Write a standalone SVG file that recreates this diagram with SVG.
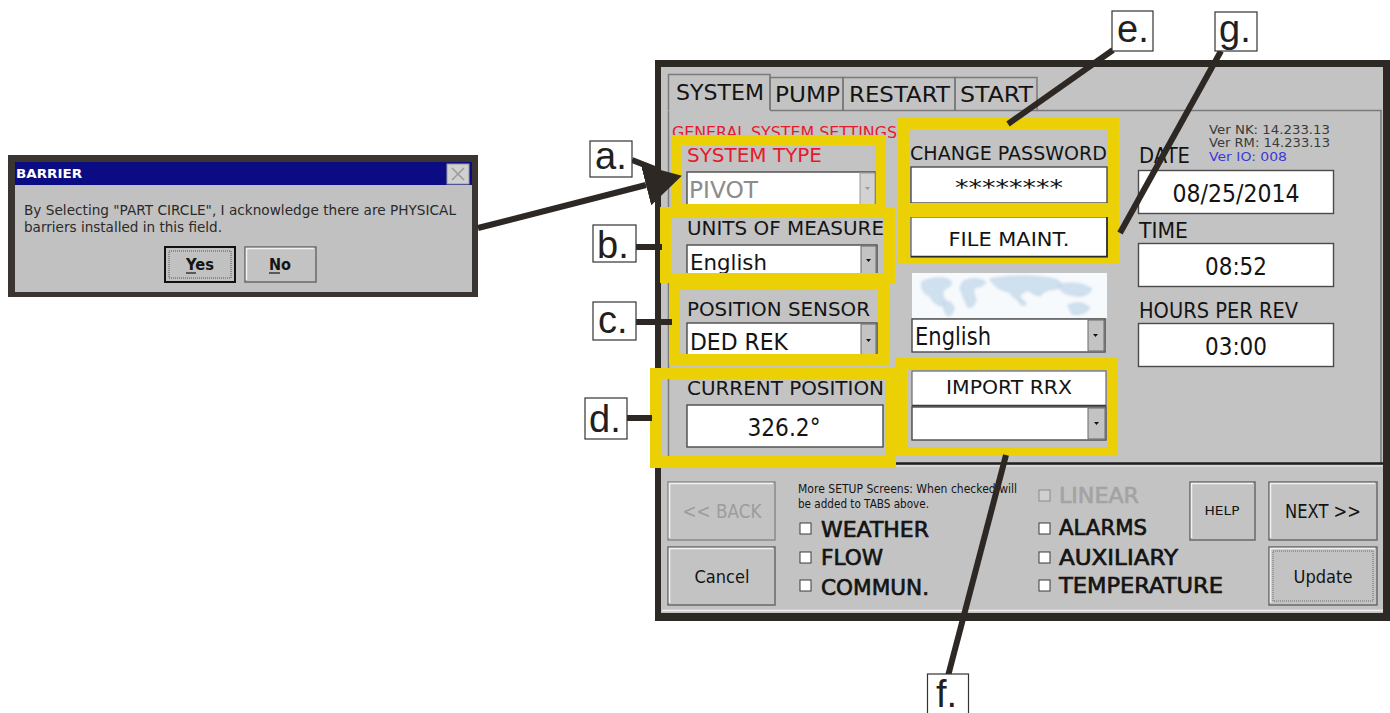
<svg xmlns="http://www.w3.org/2000/svg" width="1390" height="713" viewBox="0 0 1390 713">
<style>
.ui{font-family:"DejaVu Sans","Noto Sans",sans-serif;fill:#141414}
.cb{font-size:22px;stroke:#141414;stroke-width:0.7}
.lb{font-family:"Liberation Sans",Arial,sans-serif;font-size:38px;fill:#231f20}
.lbox{fill:#fff;stroke:#333;stroke-width:1.2}
.conn{stroke:#2e2824;stroke-width:6;fill:none}
.hl{fill:#ecd006;fill-rule:evenodd}
.fld{fill:#fff;stroke:#4a4a4a;stroke-width:1.4}
.b3{fill:#c3c3c3;stroke:#6a6a6a;stroke-width:1.5}
.hi{fill:none;stroke:#f2f2f2;stroke-width:1.5}
.dd{fill:#c3c3c3;stroke:#6a6a6a;stroke-width:1}
.ck{fill:#fff;stroke:#3a3a3a;stroke-width:1}
.tab{fill:none;stroke:#7a7a7a;stroke-width:1.5}
</style>
<defs>
<marker id="ah" markerUnits="userSpaceOnUse" markerWidth="38" markerHeight="42" refX="0" refY="21" orient="auto">
<path d="M0,0 L37,21 L0,42 z" fill="#2e2824"/>
</marker>
<filter id="blur" x="-20%" y="-20%" width="140%" height="140%"><feGaussianBlur stdDeviation="1.6"/></filter>
</defs>

<!-- Dialog -->
<g id="dialog">
<rect x="8" y="155" width="470" height="142" fill="#3a3530"/>
<rect x="15" y="162" width="457" height="130" fill="#c1c1c1"/>
<rect x="15" y="162" width="457" height="23" fill="#0b0b84"/>
<text class="ui" x="16" y="178" font-size="13" font-weight="bold" style="fill:#fff" textLength="66" lengthAdjust="spacingAndGlyphs">BARRIER</text>
<rect x="447" y="164" width="22" height="20" fill="#d0d0d0" stroke="#9a9a9a"/>
<path d="M452,168 L464,180 M464,168 L452,180" stroke="#9a9a9a" stroke-width="1.5"/>
<text class="ui" x="24" y="215" font-size="14" style="fill:#2a2a2a" textLength="432" lengthAdjust="spacingAndGlyphs">By Selecting "PART CIRCLE", I acknowledge there are PHYSICAL</text>
<text class="ui" x="24" y="232" font-size="14" style="fill:#2a2a2a" textLength="198" lengthAdjust="spacingAndGlyphs">barriers installed in this field.</text>
<rect x="165" y="247" width="70" height="35" fill="#c1c1c1" stroke="#111" stroke-width="2"/>
<rect x="169" y="251" width="62" height="27" fill="none" stroke="#555" stroke-width="1" stroke-dasharray="1,1"/>
<text class="ui" x="186" y="270" font-size="15" font-weight="bold" textLength="28" lengthAdjust="spacingAndGlyphs">Yes</text>
<path d="M186,273 H196" stroke="#141414" stroke-width="1.2"/>
<rect x="245" y="247" width="71" height="35" class="b3"/>
<path d="M246.5,280 V248.5 H314" class="hi"/>
<text class="ui" x="269" y="270" font-size="15" font-weight="bold" textLength="22" lengthAdjust="spacingAndGlyphs">No</text>
<path d="M269,273 H280" stroke="#141414" stroke-width="1.2"/>
</g>

<!-- Main panel -->
<g id="panel">
<rect x="655" y="60" width="735" height="561" fill="#2d2925"/>
<rect x="661" y="67" width="722" height="546" fill="#c3c3c3"/>
<path d="M662,610.5 H1383" stroke="#f0f0f0" stroke-width="1.5"/>
<path d="M668.5,463 V110.5 M770,110.5 H1381 V463" class="tab"/>
<path d="M668,463.5 H1383" stroke="#1e1e1e" stroke-width="2.5"/>
<path d="M668,466 H1383" stroke="#ececec" stroke-width="1"/>
<path d="M668.5,110 V74.5 H770 V110" class="tab"/>
<path d="M770,110 V77.5 H843 V110" class="tab"/>
<path d="M843,110 V77.5 H955 V110" class="tab"/>
<path d="M955,110 V77.5 H1037 V110" class="tab"/>
<text class="ui" x="676" y="100" font-size="22" textLength="88" lengthAdjust="spacingAndGlyphs">SYSTEM</text>
<text class="ui" x="775" y="102" font-size="22" textLength="65" lengthAdjust="spacingAndGlyphs">PUMP</text>
<text class="ui" x="849" y="102" font-size="22" textLength="101" lengthAdjust="spacingAndGlyphs">RESTART</text>
<text class="ui" x="960" y="102" font-size="22" textLength="73" lengthAdjust="spacingAndGlyphs">START</text>
<text class="ui" x="672" y="138" font-size="16" style="fill:#e8192c" textLength="225" lengthAdjust="spacingAndGlyphs">GENERAL SYSTEM SETTINGS</text>
</g>

<g id="system-type">
<text class="ui" x="687" y="162" font-size="20" style="fill:#e8192c" textLength="135" lengthAdjust="spacingAndGlyphs">SYSTEM TYPE</text>
<rect x="687" y="172" width="188" height="34" class="fld"/>
<rect x="860" y="173" width="15" height="32" fill="#d2d2d2" stroke="#9a9a9a"/>
<path d="M865,187 h5 l-2.5,3 z" fill="#9a9a9a"/>
<text class="ui" x="689" y="198" font-size="23" style="fill:#8c8c8c" textLength="69" lengthAdjust="spacingAndGlyphs">PIVOT</text>
</g>

<g id="units">
<text class="ui" x="687" y="235" font-size="20" textLength="197" lengthAdjust="spacingAndGlyphs">UNITS OF MEASURE</text>
<rect x="687" y="245" width="190" height="30" class="fld"/>
<rect x="861" y="246" width="15" height="28" class="dd"/>
<path d="M866,259 h5 l-2.5,3 z" fill="#111"/>
<text class="ui" x="690" y="270" font-size="22" textLength="77" lengthAdjust="spacingAndGlyphs">English</text>
</g>

<g id="position-sensor">
<text class="ui" x="687" y="316" font-size="20" textLength="183" lengthAdjust="spacingAndGlyphs">POSITION SENSOR</text>
<rect x="687" y="323" width="190" height="33" class="fld"/>
<rect x="861" y="324" width="15" height="31" class="dd"/>
<path d="M866,339 h5 l-2.5,3 z" fill="#111"/>
<text class="ui" x="690" y="350" font-size="23" textLength="98" lengthAdjust="spacingAndGlyphs">DED REK</text>
</g>

<g id="current-position">
<text class="ui" x="687" y="395" font-size="20" textLength="197" lengthAdjust="spacingAndGlyphs">CURRENT POSITION</text>
<rect x="687" y="405" width="196" height="42" class="fld"/>
<text class="ui" x="784" y="436" font-size="24" text-anchor="middle" textLength="73" lengthAdjust="spacingAndGlyphs">326.2°</text>
</g>

<g id="password">
<text class="ui" x="910" y="160" font-size="20" textLength="197" lengthAdjust="spacingAndGlyphs">CHANGE PASSWORD</text>
<rect x="911" y="167" width="196" height="36" class="fld"/>
<text class="ui" x="1009" y="195" font-size="22" text-anchor="middle" textLength="108" lengthAdjust="spacingAndGlyphs">********</text>
</g>

<g id="file-maint">
<rect x="911" y="217" width="196" height="40" fill="#fff" stroke="#6a6a6a" stroke-width="1.4"/>
<path d="M911,256.5 H1107 V217" stroke="#2a2a2a" stroke-width="1.6" fill="none"/>
<text class="ui" x="1009" y="246" font-size="20" text-anchor="middle" textLength="121" lengthAdjust="spacingAndGlyphs">FILE MAINT.</text>
</g>

<g id="language">
<rect x="912" y="273" width="195" height="45" fill="#f7fafd"/>
<g filter="url(#blur)" fill="#cfe0ef" stroke="#b3c9de" stroke-width="0.8">
<path d="M922,282 q12,-6 26,-3 q8,5 -2,9 q-6,4 -2,10 q4,6 -4,8 q-8,-4 -10,-10 q-10,-4 -8,-14 z"/>
<path d="M944,302 q8,-2 10,6 q-2,8 -6,8 q-6,-6 -4,-14 z"/>
<path d="M964,281 q12,-5 22,1 q-4,6 -12,5 q-2,6 2,12 q-2,10 -8,8 q-4,-8 -6,-14 q-4,-6 2,-12 z"/>
<path d="M990,279 q34,-6 64,0 q14,5 2,10 q-12,0 -16,7 q-8,-2 -12,-6 q-10,4 -8,10 q-8,-2 -10,-8 q-14,-2 -20,-13 z"/>
<path d="M1058,285 q20,-5 34,4 q-6,10 -20,6 q-12,-2 -14,-10 z"/>
<path d="M1068,305 q14,-5 22,3 q-6,8 -18,6 z"/>
<path d="M1018,300 q6,-2 8,4 q-4,4 -8,-4 z"/>
</g>
<rect x="912" y="319" width="193" height="33" class="fld"/>
<rect x="1088" y="320" width="16" height="31" class="dd"/>
<path d="M1093,334 h5 l-2.5,3 z" fill="#111"/>
<text class="ui" x="915" y="345" font-size="24" textLength="76" lengthAdjust="spacingAndGlyphs">English</text>
</g>

<g id="import-rrx">
<rect x="912" y="371" width="194" height="35" fill="#fff" stroke="#6a6a6a" stroke-width="1.2"/>
<path d="M912,405.5 H1106" stroke="#3a3a3a" stroke-width="1.5"/>
<text class="ui" x="1009" y="394" font-size="20" text-anchor="middle" textLength="126" lengthAdjust="spacingAndGlyphs">IMPORT RRX</text>
<rect x="912" y="407" width="194" height="33" class="fld"/>
<rect x="1088" y="408" width="17" height="31" class="dd"/>
<path d="M1094,422 h5 l-2.5,3 z" fill="#111"/>
</g>

<g id="versions">
<text class="ui" x="1209" y="134" font-size="12.5" style="fill:#3a3a3a" textLength="121" lengthAdjust="spacingAndGlyphs">Ver NK: 14.233.13</text>
<text class="ui" x="1209" y="147" font-size="12.5" style="fill:#3a3a3a" textLength="121" lengthAdjust="spacingAndGlyphs">Ver RM: 14.233.13</text>
<text class="ui" x="1209" y="161" font-size="12.5" style="fill:#3b3bd6" textLength="78" lengthAdjust="spacingAndGlyphs">Ver IO: 008</text>
</g>

<g id="date">
<text class="ui" x="1139" y="163" font-size="21" textLength="51" lengthAdjust="spacingAndGlyphs">DATE</text>
<rect x="1138.5" y="170.5" width="195" height="43" class="fld"/>
<text class="ui" x="1236" y="202" font-size="25" text-anchor="middle" textLength="127" lengthAdjust="spacingAndGlyphs">08/25/2014</text>
</g>
<g id="time">
<text class="ui" x="1139" y="238" font-size="21" textLength="49" lengthAdjust="spacingAndGlyphs">TIME</text>
<rect x="1138.5" y="243.5" width="195" height="43" class="fld"/>
<text class="ui" x="1236" y="275" font-size="25" text-anchor="middle" textLength="62" lengthAdjust="spacingAndGlyphs">08:52</text>
</g>
<g id="hours">
<text class="ui" x="1139" y="318" font-size="21" textLength="159" lengthAdjust="spacingAndGlyphs">HOURS PER REV</text>
<rect x="1138.5" y="323.5" width="195" height="43" class="fld"/>
<text class="ui" x="1236" y="355" font-size="25" text-anchor="middle" textLength="62" lengthAdjust="spacingAndGlyphs">03:00</text>
</g>

<g id="back">
<rect x="668" y="482" width="107" height="58" class="b3" style="stroke:#8a8a8a"/>
<path d="M669.5,538 V483.5 H773" class="hi"/>
<text class="ui" x="722" y="518" font-size="20" text-anchor="middle" style="fill:#9c9c9c" textLength="79" lengthAdjust="spacingAndGlyphs">&lt;&lt; BACK</text>
</g>
<g id="cancel">
<rect x="668" y="547" width="107" height="58" class="b3"/>
<path d="M669.5,603 V548.5 H773" class="hi"/>
<text class="ui" x="722" y="583" font-size="18" text-anchor="middle" textLength="55" lengthAdjust="spacingAndGlyphs">Cancel</text>
</g>
<g id="more-setup">
<text class="ui" x="798" y="493" font-size="11.5" textLength="219" lengthAdjust="spacingAndGlyphs">More SETUP Screens:  When checked will</text>
<text class="ui" x="798" y="508" font-size="11.5" textLength="131" lengthAdjust="spacingAndGlyphs">be added to TABS above.</text>
</g>
<g id="cb-weather"><rect x="800" y="523" width="11" height="11" class="ck"/><text class="ui cb" x="821" y="537" textLength="108" lengthAdjust="spacingAndGlyphs">WEATHER</text></g>
<g id="cb-flow"><rect x="800" y="552" width="11" height="11" class="ck"/><text class="ui cb" x="821" y="565" textLength="62" lengthAdjust="spacingAndGlyphs">FLOW</text></g>
<g id="cb-commun"><rect x="800" y="580" width="11" height="11" class="ck"/><text class="ui cb" x="821" y="595" textLength="108" lengthAdjust="spacingAndGlyphs">COMMUN.</text></g>
<g id="cb-linear"><rect x="1039" y="490" width="11" height="11" fill="#d0d0d0" stroke="#8a8a8a"/><text class="ui cb" x="1059" y="503" style="fill:#a3a3a3;stroke:#a3a3a3" textLength="80" lengthAdjust="spacingAndGlyphs">LINEAR</text></g>
<g id="cb-alarms"><rect x="1039" y="523" width="11" height="11" class="ck"/><text class="ui cb" x="1059" y="535" textLength="88" lengthAdjust="spacingAndGlyphs">ALARMS</text></g>
<g id="cb-auxiliary"><rect x="1039" y="552" width="11" height="11" class="ck"/><text class="ui cb" x="1059" y="565" textLength="119" lengthAdjust="spacingAndGlyphs">AUXILIARY</text></g>
<g id="cb-temperature"><rect x="1039" y="580" width="11" height="11" class="ck"/><text class="ui cb" x="1059" y="593" textLength="164" lengthAdjust="spacingAndGlyphs">TEMPERATURE</text></g>
<g id="help">
<rect x="1190" y="482" width="65" height="58" class="b3"/>
<path d="M1191.5,538 V483.5 H1253" class="hi"/>
<text class="ui" x="1222" y="515" font-size="13" text-anchor="middle" textLength="35" lengthAdjust="spacingAndGlyphs">HELP</text>
</g>
<g id="next">
<rect x="1269" y="482" width="108" height="58" class="b3"/>
<path d="M1270.5,538 V483.5 H1375" class="hi"/>
<text class="ui" x="1323" y="518" font-size="19" text-anchor="middle" textLength="76" lengthAdjust="spacingAndGlyphs">NEXT &gt;&gt;</text>
</g>
<g id="update">
<rect x="1269" y="547" width="108" height="58" class="b3"/>
<path d="M1270.5,603 V548.5 H1375" class="hi"/>
<rect x="1273" y="551" width="100" height="50" fill="none" stroke="#6a6a6a" stroke-width="1" stroke-dasharray="1,1"/>
<text class="ui" x="1323" y="583" font-size="18" text-anchor="middle" textLength="59" lengthAdjust="spacingAndGlyphs">Update</text>
</g>

<g id="highlights">
<path class="hl" d="M671,135 H886 V214 H671 Z M681,145 V204 H876 V145 Z"/>
<path class="hl" d="M660,207 H895 V283 H660 Z M671,218 V273 H884 V218 Z"/>
<path class="hl" d="M669,282 H889 V365 H669 Z M680,290 V354 H878 V290 Z"/>
<path class="hl" d="M650,368 H896 V468 H650 Z M662,379 V456 H885 V379 Z"/>
<path class="hl" d="M897,117 H1119 V210 H897 Z M909,129 V203 H1108 V129 Z"/>
<path class="hl" d="M897,203 H1119 V263 H897 Z M909,217 V258 H1108 V217 Z"/>
<path class="hl" d="M895,358 H1118 V455 H895 Z M907,370 V447 H1107 V370 Z"/>
</g>

<g id="connectors">
<path class="conn" d="M478,228 L646,185" marker-end="url(#ah)"/>
<path class="conn" d="M632,160 L660,171"/>
<path class="conn" d="M636,247 H662"/>
<path class="conn" d="M636,322 H672"/>
<path class="conn" d="M627,418 H652"/>
<path class="conn" d="M1113,50 L1008,124"/>
<path class="conn" d="M1221,51 L1120,233"/>
<path class="conn" d="M948,676 L1006,455"/>
</g>

<g id="label-a"><rect x="590" y="141" width="42" height="36" class="lbox"/><text class="lb" x="595" y="169">a.</text></g>
<g id="label-b"><rect x="593" y="225" width="43" height="37" class="lbox"/><text class="lb" x="597" y="258">b.</text></g>
<g id="label-c"><rect x="593" y="302" width="43" height="38" class="lbox"/><text class="lb" x="598" y="333">c.</text></g>
<g id="label-d"><rect x="585" y="398" width="42" height="41" class="lbox"/><text class="lb" x="589" y="432">d.</text></g>
<g id="label-e"><rect x="1112" y="11" width="41" height="40" class="lbox"/><text class="lb" x="1117" y="42">e.</text></g>
<g id="label-g"><rect x="1215" y="12" width="42" height="39" class="lbox"/><text class="lb" x="1219" y="42">g.</text></g>
<g id="label-f"><rect x="927.5" y="674" width="41" height="40" class="lbox"/><text class="lb" x="936" y="707">f.</text></g>
</svg>
